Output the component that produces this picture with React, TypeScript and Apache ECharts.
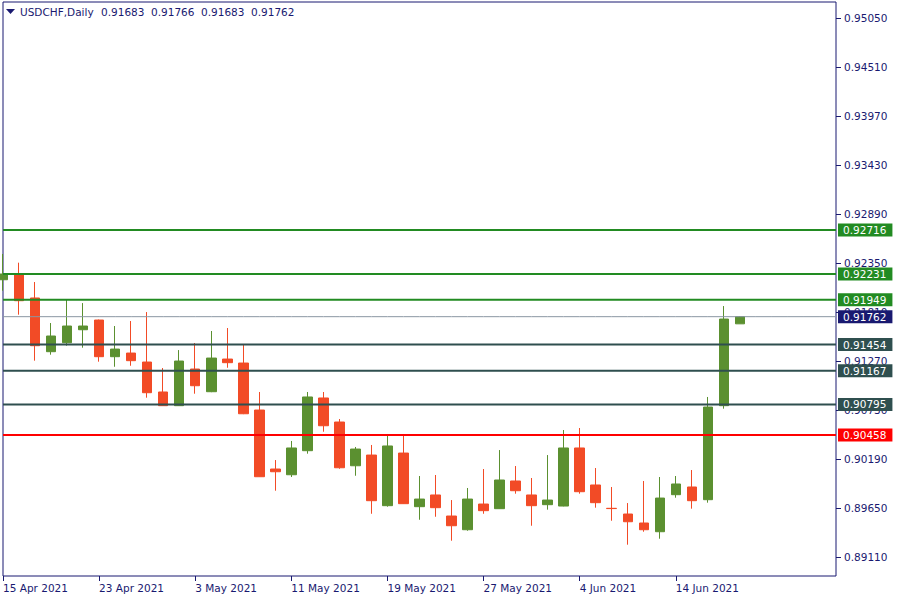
import React, { useEffect, useRef } from "react";
import * as echarts from "echarts";

// Trading days (47 candles) followed by empty future slots
const dates = [
  "15 Apr 2021", "16 Apr 2021", "19 Apr 2021", "20 Apr 2021", "21 Apr 2021", "22 Apr 2021",
  "23 Apr 2021", "26 Apr 2021", "27 Apr 2021", "28 Apr 2021", "29 Apr 2021", "30 Apr 2021",
  "3 May 2021", "4 May 2021", "5 May 2021", "6 May 2021", "7 May 2021", "10 May 2021",
  "11 May 2021", "12 May 2021", "13 May 2021", "14 May 2021", "17 May 2021", "18 May 2021",
  "19 May 2021", "20 May 2021", "21 May 2021", "24 May 2021", "25 May 2021", "26 May 2021",
  "27 May 2021", "28 May 2021", "31 May 2021", "1 Jun 2021", "2 Jun 2021", "3 Jun 2021",
  "4 Jun 2021", "7 Jun 2021", "8 Jun 2021", "9 Jun 2021", "10 Jun 2021", "11 Jun 2021",
  "14 Jun 2021", "15 Jun 2021", "16 Jun 2021", "17 Jun 2021", "18 Jun 2021",
  "21 Jun 2021", "22 Jun 2021", "23 Jun 2021", "24 Jun 2021", "25 Jun 2021", "28 Jun 2021",
];

const labeledDates = [
  "15 Apr 2021", "23 Apr 2021", "3 May 2021", "11 May 2021",
  "19 May 2021", "27 May 2021", "4 Jun 2021", "14 Jun 2021",
];

const opens = [
  0.92169, 0.92221, 0.91968, 0.91376, 0.91475, 0.91618, 0.91725, 0.91321, 0.91361, 0.91262,
  0.90932, 0.90781, 0.91185, 0.90935, 0.91295, 0.91251, 0.90733, 0.90083, 0.90020, 0.90285,
  0.90866, 0.90601, 0.90119, 0.90237, 0.89679, 0.90259, 0.89668, 0.89797, 0.89565, 0.89414,
  0.89697, 0.89646, 0.89951, 0.89797, 0.89690, 0.89675, 0.90315, 0.89907, 0.89650, 0.89587,
  0.89488, 0.89392, 0.89800, 0.89885, 0.89745, 0.90781, 0.91683,
];
const closes = [
  0.92232, 0.91938, 0.91442, 0.91549, 0.91659, 0.91659, 0.91321, 0.91405, 0.91277, 0.90924,
  0.90781, 0.91273, 0.91001, 0.91306, 0.91255, 0.90692, 0.89998, 0.90053, 0.90315, 0.90877,
  0.90560, 0.90097, 0.90303, 0.89734, 0.90337, 0.89701, 0.89752, 0.89657, 0.89458, 0.89752,
  0.89624, 0.89962, 0.89844, 0.89679, 0.89741, 0.90315, 0.89833, 0.89712, 0.89647, 0.89502,
  0.89414, 0.89763, 0.89918, 0.89734, 0.90766, 0.91736, 0.91762,
];
const lows = [
  0.92048, 0.91784, 0.91277, 0.91343, 0.91442, 0.91420, 0.91266, 0.91210, 0.91221, 0.90869,
  0.90778, 0.90778, 0.90913, 0.90930, 0.91199, 0.90688, 0.89995, 0.89844, 0.89995, 0.90252,
  0.90494, 0.90086, 0.90009, 0.89590, 0.89668, 0.89698, 0.89524, 0.89557, 0.89293, 0.89403,
  0.89590, 0.89643, 0.89811, 0.89458, 0.89635, 0.89672, 0.89811, 0.89657, 0.89513, 0.89249,
  0.89392, 0.89315, 0.89767, 0.89646, 0.89712, 0.90748, 0.91683,
];
const highs = [
  0.92453, 0.92357, 0.92144, 0.91692, 0.91953, 0.91912, 0.91730, 0.91659, 0.91714, 0.91813,
  0.91196, 0.91394, 0.91472, 0.91604, 0.91637, 0.91450, 0.90932, 0.90182, 0.90392, 0.90932,
  0.90932, 0.90634, 0.90326, 0.90348, 0.90469, 0.90469, 0.90006, 0.90017, 0.89741, 0.89874,
  0.90083, 0.90292, 0.90116, 0.89984, 0.90237, 0.90513, 0.90535, 0.90094, 0.89885, 0.89708,
  0.89951, 0.89995, 0.90006, 0.90072, 0.90877, 0.91879, 0.91766,
];

const yTicks = [
  0.8911, 0.8965, 0.9019, 0.9073, 0.9127, 0.9181, 0.9235, 0.9289, 0.9343, 0.9397, 0.9451, 0.9505,
];

const levels = [0.92716, 0.92231, 0.91949, 0.91762, 0.91454, 0.91167, 0.90795, 0.90458];
const levelKinds = ["res", "res", "res", "price", "sup", "sup", "sup", "key"];

const symbolName = "USDCHF,Daily";
const ohlcText = ["0.91683", "0.91766", "0.91683", "0.91762"];

const NAVY = "#191970";
const BULL = "#5B9030";
const BEAR = "#F24B26";
const FONT = "'DejaVu Sans', Tahoma, sans-serif";
const kindStyle: Record<string, { line: string; box: string; width: number }> = {
  res: { line: "#228B22", box: "#228B22", width: 2 },
  price: { line: "#8A96A3", box: NAVY, width: 1 },
  sup: { line: "#2F4F4F", box: "#2F4F4F", width: 2 },
  key: { line: "#FF0000", box: "#FF0000", width: 2 },
};

export default function App() {
  const ref = useRef<HTMLDivElement>(null);

  useEffect(() => {
    if (!ref.current) return;
    const chart = echarts.init(ref.current, null, { renderer: "svg" });
    const candleData = opens.map((o, i) => [o, closes[i], lows[i], highs[i]]);
    const labeledIdx = new Set(labeledDates.map((d) => dates.indexOf(d)));

    const levelSeries = levels.map((v, i) => {
      const s = kindStyle[levelKinds[i]];
      return {
        type: "line",
        data: dates.map(() => v),
        symbol: "none",
        silent: true,
        z: 3,
        lineStyle: { color: s.line, width: s.width, type: "solid" },
        endLabel: {
          show: true,
          distance: 2,
          formatter: () => v.toFixed(5),
          color: "#FFFFFF",
          backgroundColor: s.box,
          padding: [1, 6, 0, 5],
          fontFamily: FONT,
          fontSize: 10.5,
          lineHeight: 12,
          align: "left",
          verticalAlign: "middle",
        },
      };
    });

    const titleGraphics: any[] = [
      {
        type: "polygon",
        shape: { points: [[6, 9], [15, 9], [10.5, 14]] },
        style: { fill: NAVY },
      },
      {
        type: "text",
        x: 20,
        y: 12,
        style: {
          text: symbolName,
          fill: NAVY,
          font: `10.5px ${FONT}`,
          verticalAlign: "middle",
        },
      },
    ];
    ohlcText.forEach((t, i) => {
      titleGraphics.push({
        type: "text",
        x: 101 + i * 50,
        y: 12,
        style: { text: t, fill: NAVY, font: `10.5px ${FONT}`, verticalAlign: "middle" },
      });
    });

    chart.setOption({
      animation: false,
      backgroundColor: "#FFFFFF",
      grid: {
        left: 2,
        top: 2,
        right: 64,
        bottom: 24,
        show: true,
        borderColor: NAVY,
        borderWidth: 1,
        backgroundColor: "transparent",
      },
      xAxis: {
        type: "category",
        data: dates,
        boundaryGap: false,
        axisLine: { show: false },
        axisTick: {
          show: true,
          length: 5,
          lineStyle: { color: NAVY },
          interval: (idx: number) => labeledIdx.has(idx),
        },
        axisLabel: {
          show: true,
          interval: (idx: number) => labeledIdx.has(idx),
          align: "left",
          margin: 6,
          color: NAVY,
          fontFamily: FONT,
          fontSize: 10.5,
        },
        splitLine: { show: false },
      },
      yAxis: {
        type: "value",
        position: "right",
        min: 0.88904,
        max: 0.9523,
        scale: true,
        axisLine: { show: false },
        axisTick: {
          show: true,
          length: 5,
          lineStyle: { color: NAVY },
          customValues: yTicks,
        },
        axisLabel: {
          show: true,
          customValues: yTicks,
          margin: 8,
          color: NAVY,
          fontFamily: FONT,
          fontSize: 10.5,
          formatter: (v: number) => v.toFixed(5),
        },
        splitLine: { show: false },
      },
      graphic: titleGraphics,
      series: [
        {
          type: "candlestick",
          data: candleData,
          barWidth: 10,
          clip: true,
          z: 2,
          itemStyle: {
            color: BULL,
            color0: BEAR,
            borderColor: BULL,
            borderColor0: BEAR,
            borderColorDoji: BEAR,
            borderWidth: 1,
          },
        },
        ...levelSeries,
      ],
    });

    return () => chart.dispose();
  }, []);

  return (
    <div
      ref={ref}
      style={{ position: "absolute", left: 0, top: 0, width: 900, height: 600, background: "#fff" }}
    />
  );
}
